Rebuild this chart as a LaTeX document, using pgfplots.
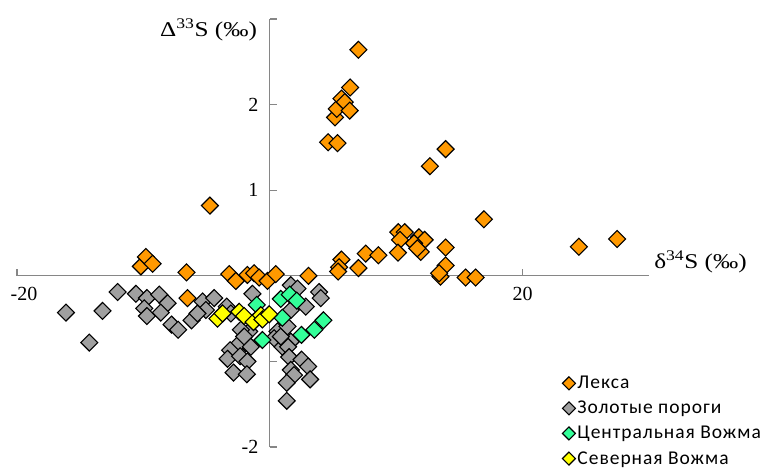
\documentclass[border=0pt]{standalone}
\usepackage{fontspec}
\setmainfont{Liberation Serif}
\newfontfamily\legfont{Carlito}[LetterSpace=5]
\usepackage{pgfplots}
\pgfplotsset{compat=1.18}
\definecolor{lexa}{RGB}{255,153,0}
\definecolor{zolot}{RGB}{160,160,160}
\definecolor{centr}{RGB}{51,255,153}
\definecolor{sever}{RGB}{255,255,0}
\definecolor{axgray}{RGB}{134,134,134}
\pgfplotsset{
  dmark/.style={only marks, mark=square*, mark size=6pt,
     mark options={rotate=45, draw=black, line width=1.1pt, fill=#1}},
}
\begin{document}
\begin{tikzpicture}[x=1pt,y=1pt]
\begin{axis}[name=ax, at={(0,0)}, anchor=south west,
  scale only axis, width=632pt, height=428pt,
  xmin=-20, xmax=30, ymin=-2, ymax=3,
  axis lines=middle,
  axis line style={axgray, line width=1.1pt, -},
  clip=false,
  xtick={-20,0,20}, xticklabels={\hspace*{14pt}-20,,20},
  ytick={-2,-1,0,1,2,3}, yticklabels={-2,,,1,2,},
  major tick length=0pt,
  tick style={draw=none},
  ticklabel style={font=\fontsize{20}{24}\selectfont},
  xticklabel style={yshift=-8pt},
  yticklabel style={xshift=-8pt},
  xlabel={\scalebox{1.2}[1]{δ\textsuperscript{34}S (‰)}},
  ylabel={\scalebox{1.2}[1]{Δ\textsuperscript{33}S (‰)}},
  xlabel style={at={(axis description cs:1.008,0.432)}, anchor=west, font=\fontsize{21}{25}\selectfont, inner sep=0pt},
  ylabel style={at={(axis description cs:0.380,0.974)}, anchor=east, rotate=0, font=\fontsize{21}{25}\selectfont, inner sep=0pt},
  legend image code/.code={\draw[#1, mark size=4.6pt] plot coordinates {(0.15cm,0cm)};},
  legend style={draw=none, fill=none, at={(axis description cs:0.858,0.175)}, anchor=north west,
     font=\legfont\fontsize{19.5}{23}\selectfont, row sep=7pt,
     nodes={inner sep=2pt}},
  legend cell align=left,
  after end axis/.code={
    \foreach \xx in {-20,20} {\draw[axgray, line width=1.2pt] (axis cs:\xx,0) -- ++(0pt,6.5pt);}
    \foreach \yy in {-2,-1,1,2,3} {\draw[axgray, line width=1.2pt] (axis cs:0,\yy) -- ++(7pt,0pt);}
  },
]
\addplot[dmark=lexa] coordinates {
(-10.2,0.11)(-9.8,0.22)(-9.27,0.14)(-6.59,0.04)(-6.51,-0.26)(-4.74,0.82)
(-3.21,0.02)(-2.69,-0.06)(-1.77,0.01)(-1.24,0.03)(-0.84,-0.02)(-0.18,-0.06)
(0.47,0.02)(3.06,0.0)(4.61,1.56)(5.35,1.55)(5.16,1.85)(5.30,1.95)(5.67,2.07)
(5.93,2.03)(6.32,1.93)(6.35,2.20)(7.01,2.64)(5.67,0.19)(5.48,0.10)(5.40,0.05)
(7.01,0.09)(7.59,0.26)(8.59,0.24)(10.17,0.51)(10.67,0.51)(10.30,0.42)(10.14,0.27)
(11.80,0.45)(12.25,0.42)(11.41,0.38)(11.94,0.28)(11.67,0.32)(12.67,1.28)(13.91,1.48)
(13.91,0.33)(13.91,0.12)(13.5,-0.01)(13.4,0.03)(15.49,-0.02)(16.28,-0.02)(16.94,0.66)
(24.45,0.34)(27.48,0.43)
};
\addlegendentry{Лекса}
\addplot[dmark=zolot] coordinates {
(-16.13,-0.43)(-14.28,-0.78)(-13.23,-0.41)(-12.04,-0.19)(-10.59,-0.21)(-9.72,-0.26)
(-9.93,-0.38)(-9.72,-0.47)(-8.75,-0.22)(-8.09,-0.32)(-8.62,-0.43)(-7.77,-0.57)
(-7.25,-0.63)(-6.19,-0.52)(-5.32,-0.30)(-4.40,-0.26)(-5.06,-0.40)(-5.72,-0.44)
(-3.40,-0.36)(-3.08,-0.44)(-1.37,-0.21)(-1.63,-0.65)(-2.29,-0.63)(-1.90,-0.79)
(-2.55,-0.81)(1.66,-0.11)(2.19,-0.15)(3.90,-0.19)(4.03,-0.26)(2.85,-0.36)
(1.66,-0.40)(0.61,-0.65)(1.26,-0.71)(1.66,-0.77)(1.0,-0.83)(0.34,-0.73)
(-2.03,-0.71)(-1.50,-0.83)(-3.14,-0.87)(-3.34,-0.97)(-2.35,-0.94)(-1.77,-1.00)
(-2.87,-1.13)(-1.82,-1.15)(0.87,-0.71)(1.45,-0.83)(1.53,-0.95)(2.51,-0.98)
(3.03,-1.06)(1.66,-1.10)(1.92,-1.16)(1.34,-1.25)(3.19,-1.21)(1.34,-1.46)(1.40,-0.59)
};
\addlegendentry{Золотые пороги}
\addplot[dmark=centr] coordinates {
(-1.03,-0.34)(0.87,-0.27)(1.58,-0.22)(2.13,-0.29)(1.0,-0.49)(-0.58,-0.75)
(2.5,-0.69)(3.53,-0.63)(4.24,-0.52)
};
\addlegendentry{Центральная Вожма}
\addplot[dmark=sever] coordinates {
(-4.14,-0.50)(-3.74,-0.44)(-2.42,-0.42)(-2.03,-0.47)(-1.29,-0.54)(-0.71,-0.46)
(-0.58,-0.51)(-0.05,-0.45)
};
\addlegendentry{Северная Вожма}
\end{axis}
\pgfresetboundingbox
\path[use as bounding box] (-17pt,-22pt) rectangle (754pt,447pt);
\end{tikzpicture}
\end{document}
